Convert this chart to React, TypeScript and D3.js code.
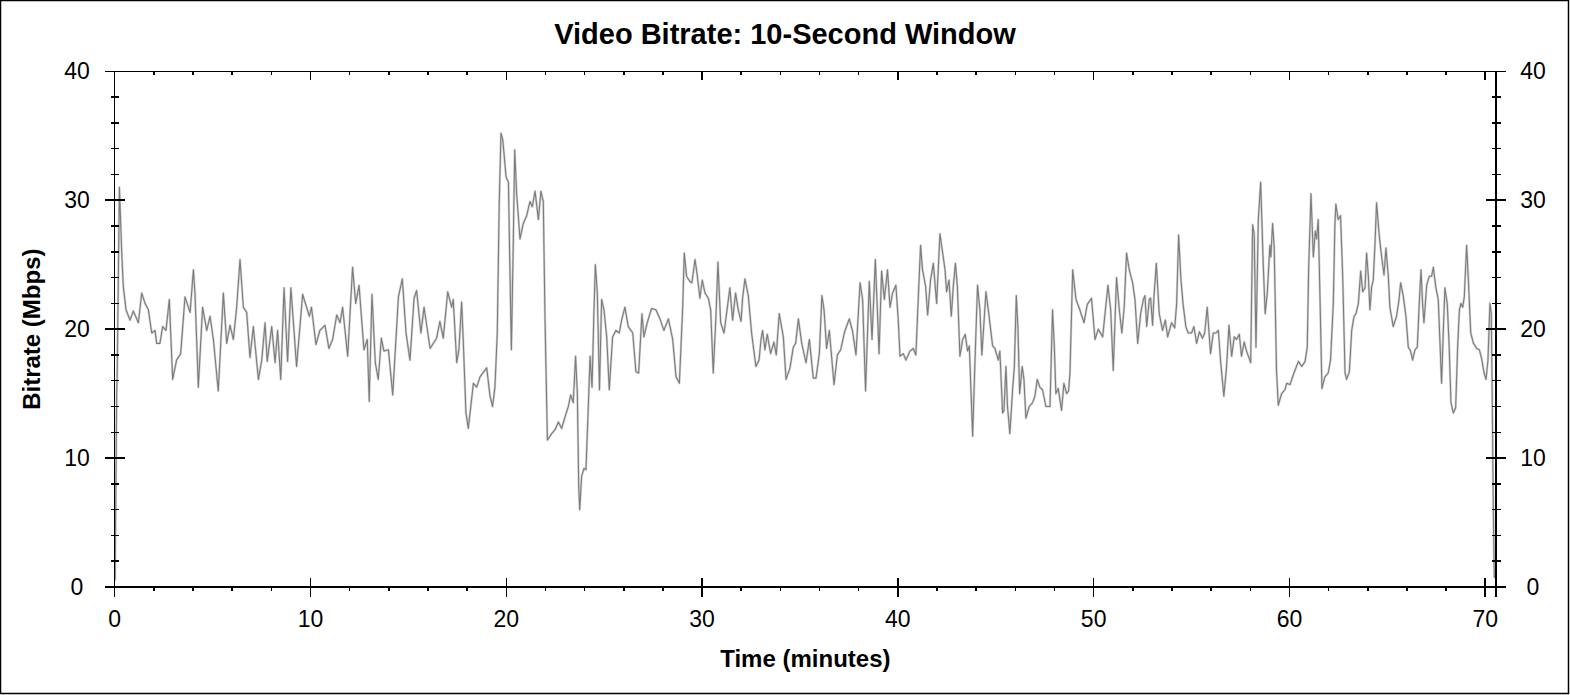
import React, { useEffect } from 'react';
import * as d3 from 'd3';

// bitrate samples: [minutes, Mbps]
const min00to10: [number, number][] = [
  [0.02, 0.5], [0.1, 14.8], [0.13, 16.8], [0.24, 31.0], [0.36, 25.9], [0.44, 23.3], [0.58, 21.5], [0.78, 20.7],
  [0.95, 21.4], [1.21, 20.5], [1.38, 22.8], [1.55, 22.0], [1.72, 21.5], [1.89, 19.7], [2.06, 19.9], [2.14, 18.9],
  [2.31, 18.9], [2.45, 20.2], [2.62, 19.9], [2.79, 22.3], [2.96, 16.1], [3.16, 17.6], [3.37, 18.1], [3.59, 22.5],
  [3.85, 21.3], [4.02, 24.6], [4.1, 22.8], [4.27, 15.5], [4.49, 21.7], [4.7, 19.9], [4.87, 21.0], [5.04, 19.2],
  [5.29, 15.2], [5.55, 22.8], [5.72, 18.9], [5.89, 20.3], [6.06, 19.2], [6.23, 21.7], [6.4, 25.4], [6.57, 21.7],
  [6.74, 21.3], [6.91, 17.8], [7.08, 20.2], [7.34, 16.1], [7.51, 17.6], [7.68, 20.5], [7.79, 17.5], [8.02, 20.2],
  [8.19, 17.4], [8.32, 19.9], [8.48, 16.1], [8.65, 23.2], [8.83, 17.5], [9.0, 23.2], [9.29, 17.1], [9.6, 22.7],
  [9.8, 21.7], [9.94, 21.0],
];
const min10to20: [number, number][] = [
  [10.05, 21.7], [10.28, 18.8], [10.48, 19.9], [10.74, 20.3], [10.94, 18.5], [11.13, 19.2], [11.34, 21.1],
  [11.51, 20.5], [11.64, 21.7], [11.9, 17.9], [12.15, 24.8], [12.31, 22.0], [12.48, 23.4], [12.73, 18.4],
  [12.9, 19.2], [13.0, 14.4], [13.14, 22.7], [13.31, 17.4], [13.46, 16.1], [13.62, 19.3], [13.75, 18.3],
  [13.98, 18.4], [14.2, 14.9], [14.49, 22.5], [14.69, 23.9], [14.88, 19.7], [15.08, 17.6], [15.29, 22.4],
  [15.42, 23.0], [15.64, 19.7], [15.8, 21.7], [16.11, 18.5], [16.44, 19.3], [16.61, 20.6], [16.78, 19.3],
  [17.01, 22.9], [17.21, 21.7], [17.29, 22.3], [17.47, 17.4], [17.58, 18.4], [17.72, 22.1], [17.8, 19.2],
  [17.94, 13.5], [18.06, 12.3], [18.32, 15.8], [18.49, 15.5], [18.66, 16.3], [19.0, 17.0], [19.17, 14.8],
  [19.3, 14.0], [19.42, 15.5], [19.54, 19.7], [19.64, 29.8], [19.73, 35.2], [19.82, 34.7], [19.99, 31.8],
];
const min20to30: [number, number][] = [
  [20.11, 31.4], [20.19, 24.3], [20.26, 18.4], [20.36, 26.9], [20.43, 33.9], [20.53, 30.5], [20.7, 27.0],
  [20.87, 28.2], [21.04, 28.8], [21.21, 29.9], [21.33, 29.5], [21.47, 30.7], [21.64, 28.5], [21.77, 30.7],
  [21.89, 29.9], [21.98, 20.7], [22.1, 11.4], [22.32, 11.9], [22.49, 12.2], [22.66, 12.8], [22.83, 12.3],
  [23.0, 13.2], [23.17, 14.0], [23.29, 14.9], [23.42, 14.3], [23.54, 17.9], [23.63, 15.0], [23.7, 7.8],
  [23.75, 6.0], [23.85, 8.6], [23.97, 9.2], [24.07, 9.1], [24.19, 14.0], [24.28, 17.9], [24.38, 15.5],
  [24.48, 21.5], [24.55, 25.0], [24.65, 22.8], [24.76, 15.3], [24.87, 22.3], [24.99, 21.5], [25.13, 19.4],
  [25.26, 15.3], [25.43, 19.4], [25.6, 19.9], [25.77, 19.7], [25.89, 20.7], [26.06, 21.7], [26.23, 20.2],
  [26.46, 19.7], [26.62, 16.7], [26.76, 16.6], [26.93, 21.2], [27.03, 19.4], [27.2, 20.5], [27.42, 21.6],
  [27.64, 21.5], [27.85, 20.8], [28.05, 19.9], [28.28, 20.8], [28.5, 19.2], [28.67, 16.3], [28.84, 15.8],
  [29.01, 21.7], [29.09, 25.9], [29.21, 24.1], [29.38, 23.7], [29.48, 23.6], [29.64, 25.4], [29.76, 24.1],
  [29.89, 22.4],
];
const min30to40: [number, number][] = [
  [30.01, 23.8], [30.15, 22.8], [30.32, 22.4], [30.44, 21.5], [30.57, 16.6], [30.71, 21.0], [30.81, 25.2],
  [30.95, 20.5], [31.12, 19.7], [31.25, 21.2], [31.42, 23.2], [31.56, 20.7], [31.71, 22.8], [31.85, 21.5],
  [31.99, 20.6], [32.07, 22.4], [32.19, 23.9], [32.36, 22.6], [32.53, 19.7], [32.75, 17.1], [32.91, 17.6],
  [33.01, 19.2], [33.09, 19.9], [33.21, 18.4], [33.33, 19.6], [33.5, 18.1], [33.67, 19.0], [33.79, 18.0],
  [33.94, 21.2], [34.15, 19.4], [34.29, 16.1], [34.49, 17.0], [34.66, 18.6], [34.78, 18.9], [34.92, 20.8],
  [35.09, 18.9], [35.31, 17.4], [35.48, 19.2], [35.68, 16.2], [35.82, 16.2], [35.99, 18.1], [36.12, 22.6],
  [36.23, 21.5], [36.36, 18.5], [36.5, 19.9], [36.74, 15.7], [36.91, 18.0], [37.08, 18.4], [37.28, 19.8],
  [37.52, 20.8], [37.69, 19.8], [37.86, 18.0], [38.07, 23.6], [38.2, 22.3], [38.35, 15.2], [38.54, 23.7],
  [38.68, 19.2], [38.85, 25.4], [39.04, 18.1], [39.17, 24.5], [39.31, 22.3], [39.47, 24.6], [39.6, 21.7],
  [39.73, 22.8], [39.9, 23.4],
];
const min40to50: [number, number][] = [
  [40.02, 20.7], [40.11, 17.9], [40.28, 18.1], [40.41, 17.6], [40.62, 18.3], [40.79, 18.5], [40.92, 18.0],
  [41.04, 22.3], [41.16, 26.5], [41.26, 24.6], [41.42, 23.3], [41.52, 21.1], [41.67, 23.8], [41.81, 25.1],
  [41.98, 22.0], [42.15, 27.4], [42.27, 26.1], [42.41, 24.6], [42.49, 22.9], [42.61, 23.8], [42.73, 21.0],
  [42.83, 23.3], [42.94, 25.1], [43.04, 23.3], [43.17, 17.9], [43.31, 19.2], [43.44, 19.6], [43.56, 18.3],
  [43.65, 18.7], [43.82, 11.7], [43.94, 17.6], [44.07, 23.4], [44.19, 21.5], [44.29, 18.0], [44.5, 22.9],
  [44.62, 21.5], [44.84, 18.7], [44.96, 18.5], [45.13, 17.6], [45.21, 18.3], [45.35, 13.5], [45.42, 13.7],
  [45.52, 17.1], [45.6, 14.0], [45.72, 11.9], [45.86, 15.3], [45.95, 17.1], [46.05, 22.6], [46.13, 20.2],
  [46.22, 15.0], [46.35, 17.1], [46.44, 16.1], [46.54, 13.1], [46.71, 14.0], [46.88, 14.3], [47.0, 14.8],
  [47.12, 16.1], [47.25, 15.5], [47.39, 15.3], [47.56, 14.0], [47.77, 14.0], [47.9, 21.5], [47.99, 18.7],
  [48.07, 15.0], [48.19, 15.4], [48.36, 13.7], [48.48, 15.8], [48.62, 15.0], [48.72, 15.2], [48.79, 16.6],
  [48.93, 24.6], [49.1, 22.3], [49.27, 21.6], [49.51, 20.5], [49.67, 21.9], [49.89, 22.4],
];
const min50to60: [number, number][] = [
  [50.07, 19.2], [50.24, 20.0], [50.46, 19.4], [50.73, 23.4], [50.87, 21.5], [51.0, 16.8], [51.17, 24.0],
  [51.31, 21.5], [51.44, 19.7], [51.56, 21.7], [51.68, 25.9], [51.82, 24.6], [51.99, 23.6], [52.11, 22.3],
  [52.25, 18.9], [52.4, 21.2], [52.54, 22.3], [52.62, 22.6], [52.71, 20.2], [52.84, 22.3], [52.91, 22.4],
  [53.01, 20.3], [53.08, 22.5], [53.2, 25.1], [53.35, 21.2], [53.52, 19.9], [53.66, 20.7], [53.78, 19.4],
  [53.98, 20.5], [54.14, 20.1], [54.24, 22.0], [54.34, 27.3], [54.46, 23.8], [54.57, 21.9], [54.71, 20.2],
  [54.83, 19.7], [55.0, 19.7], [55.12, 20.2], [55.26, 18.9], [55.4, 19.8], [55.56, 19.3], [55.67, 19.7],
  [55.8, 21.7], [55.97, 18.1], [56.11, 19.7], [56.24, 19.7], [56.37, 19.9], [56.49, 17.4], [56.65, 14.8],
  [56.79, 17.1], [56.91, 20.3], [57.05, 17.9], [57.18, 19.4], [57.3, 19.2], [57.44, 19.6], [57.55, 17.9],
  [57.69, 19.0], [57.81, 18.3], [58.02, 17.4], [58.12, 28.1], [58.2, 27.4], [58.29, 18.6], [58.41, 28.5],
  [58.53, 31.4], [58.66, 25.1], [58.76, 21.2], [58.87, 22.8], [59.0, 26.5], [59.05, 25.6], [59.14, 28.2],
  [59.22, 26.4], [59.34, 16.8], [59.43, 14.1], [59.6, 15.0], [59.77, 15.3], [59.86, 15.8],
];
const min60to70: [number, number][] = [
  [60.03, 15.7], [60.23, 16.6], [60.46, 17.5], [60.63, 17.1], [60.8, 17.5], [60.91, 18.6], [60.98, 24.6],
  [61.1, 30.5], [61.22, 25.6], [61.32, 27.6], [61.39, 27.0], [61.47, 28.5], [61.56, 22.5], [61.66, 15.4],
  [61.81, 16.3], [61.98, 16.6], [62.1, 17.6], [62.24, 22.0], [62.32, 28.0], [62.37, 29.7], [62.49, 28.5],
  [62.61, 28.8], [62.72, 24.1], [62.84, 16.6], [62.92, 16.1], [63.06, 16.7], [63.18, 19.9], [63.3, 21.0],
  [63.4, 21.2], [63.52, 22.0], [63.64, 24.5], [63.74, 22.9], [63.86, 23.2], [63.94, 25.9], [64.03, 24.1],
  [64.11, 21.5], [64.2, 23.3], [64.28, 23.8], [64.37, 26.6], [64.45, 29.8], [64.59, 27.2], [64.71, 25.6],
  [64.83, 24.2], [64.93, 26.3], [65.05, 24.1], [65.13, 21.7], [65.3, 20.2], [65.47, 21.0], [65.59, 22.2],
  [65.68, 23.6], [65.81, 22.6], [65.95, 21.0], [66.07, 18.6], [66.19, 18.3], [66.29, 17.6], [66.41, 18.4],
  [66.53, 18.6], [66.63, 22.0], [66.72, 24.6], [66.8, 22.0], [66.87, 20.5], [67.01, 23.4], [67.14, 24.1],
  [67.26, 24.1], [67.35, 24.8], [67.48, 23.2], [67.6, 22.3], [67.69, 18.9], [67.77, 15.8], [67.86, 19.9],
  [67.94, 23.2], [68.06, 22.0], [68.16, 18.6], [68.25, 14.3], [68.37, 13.5], [68.49, 13.9], [68.59, 18.6],
  [68.68, 21.5], [68.76, 22.0], [68.85, 21.7], [68.93, 22.5], [69.05, 26.5], [69.14, 23.8], [69.26, 19.7],
  [69.4, 18.9], [69.57, 18.5], [69.7, 18.4], [69.82, 17.7], [69.94, 16.6],
];
const min70end: [number, number][] = [
  [70.04, 16.1], [70.14, 17.6], [70.24, 22.0], [70.31, 21.2], [70.36, 14.3], [70.41, 6.5], [70.46, 0.8], [70.51, 0.7],
];

const yTickValues = [0, 10, 20, 30, 40];
const xTickValues = [0, 10, 20, 30, 40, 50, 60, 70];
const titleText = 'Video Bitrate: 10-Second Window';
const xLabel = 'Time (minutes)';
const yLabel = 'Bitrate (Mbps)';

const W = 1570;
const H = 695;
const left = 114.7, right = 1496, top = 71.3, bottom = 587;
const font = '"Liberation Sans", Arial, sans-serif';

export default function App() {
  useEffect(() => {
    document.body.style.margin = '0';
  }, []);

  const series = [
    ...min00to10, ...min10to20, ...min20to30, ...min30to40,
    ...min40to50, ...min50to60, ...min60to70, ...min70end,
  ];

  const x = d3.scaleLinear().domain([0, 70.55]).range([left, right]);
  const y = d3.scaleLinear().domain([0, 40]).range([bottom, top]);
  const line = d3.line<[number, number]>().x(d => x(d[0])).y(d => y(d[1]));
  const path = line(series) || '';

  const yMinor = d3.range(0, 41, 2).filter(v => v % 10 !== 0);
  const xMinor = d3.range(0, 71, 2).filter(v => v % 10 !== 0);

  return (
    <svg width={W} height={H} style={{ display: 'block', background: '#fff' }} fontFamily={font}>
      <rect x={0.5} y={0.5} width={W - 2} height={H - 2} fill="#fff" stroke="#000" strokeWidth={1.5} />

      <text x={785} y={44} textAnchor="middle" fontSize={29} fontWeight="bold">{titleText}</text>

      {/* data */}
      <path d={path} fill="none" stroke="#d4d4d4" strokeWidth={2.4} strokeLinejoin="round" />
      <path d={path} fill="none" stroke="#7c7c7c" strokeWidth={1.1} strokeLinejoin="round" />

      {/* frame */}
      <g stroke="#000" strokeWidth={1.5} shapeRendering="crispEdges">
        <line x1={105} x2={right + 10} y1={top} y2={top} />
        <line x1={105} x2={right + 10} y1={bottom} y2={bottom} />
        <line x1={left} x2={left} y1={top} y2={bottom + 10} />
        <line x1={right} x2={right} y1={top} y2={bottom + 10} />

        {yTickValues.map(v => (
          <g key={'ym' + v}>
            <line x1={left - 10} x2={left + 10} y1={y(v)} y2={y(v)} />
            <line x1={right - 10} x2={right + 10} y1={y(v)} y2={y(v)} />
          </g>
        ))}
        {yMinor.map(v => (
          <g key={'yn' + v}>
            <line x1={left - 4} x2={left + 4} y1={y(v)} y2={y(v)} />
            <line x1={right - 4} x2={right + 5} y1={y(v)} y2={y(v)} />
          </g>
        ))}
        {xTickValues.map(v => (
          <g key={'xm' + v}>
            <line x1={x(v)} x2={x(v)} y1={bottom - 9} y2={bottom + 10} />
            <line x1={x(v)} x2={x(v)} y1={top} y2={top + 9} />
          </g>
        ))}
        {xMinor.map(v => (
          <g key={'xn' + v}>
            <line x1={x(v)} x2={x(v)} y1={bottom} y2={bottom + 4} />
            <line x1={x(v)} x2={x(v)} y1={top} y2={top + 4} />
          </g>
        ))}
      </g>

      <g fontSize={23} textAnchor="middle">
        {yTickValues.map(v => (
          <g key={'yl' + v}>
            <text x={77} y={y(v) + 8}>{v}</text>
            <text x={1533} y={y(v) + 8}>{v}</text>
          </g>
        ))}
        {xTickValues.map(v => (
          <text key={'xl' + v} x={x(v)} y={627}>{v}</text>
        ))}
      </g>

      <text x={(left + right) / 2} y={667} textAnchor="middle" fontSize={24} fontWeight="bold">{xLabel}</text>
      <text transform={`translate(40, ${(top + bottom) / 2}) rotate(-90)`} textAnchor="middle" fontSize={24} fontWeight="bold">{yLabel}</text>
    </svg>
  );
}
